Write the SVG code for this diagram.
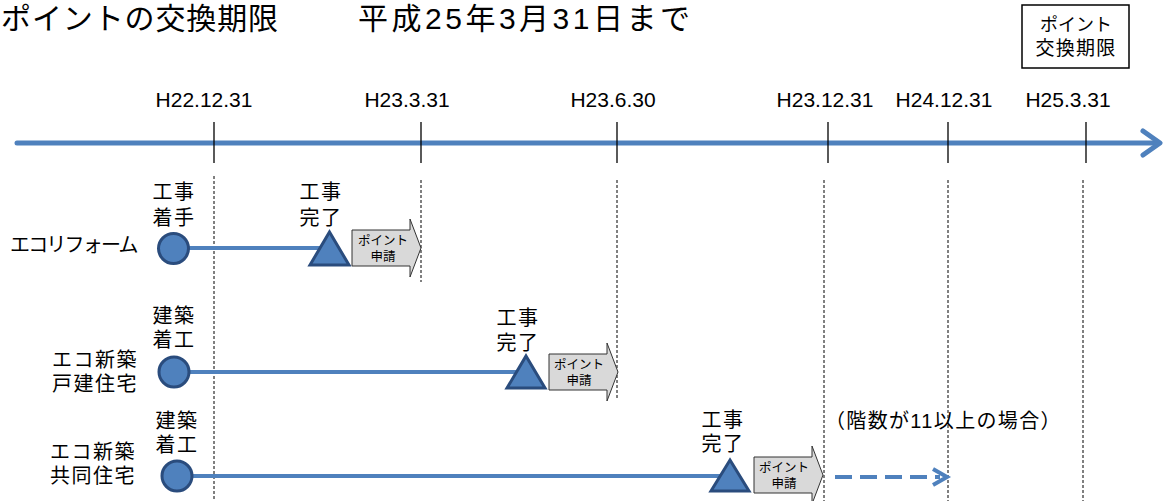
<svg xmlns="http://www.w3.org/2000/svg" width="1163" height="501" viewBox="0 0 1163 501">
<style>
text { font-family: "Liberation Sans","Noto Sans CJK JP",sans-serif; fill:#000; }
.title { font-size:30px; }
.date { font-size:21px; text-anchor:middle; }
.lbl { font-size:20px; letter-spacing:1.5px; }
.mid { text-anchor:middle; }
.small { font-size:12.5px; text-anchor:middle; }
.tick { stroke:#000; stroke-width:1.3; }
.guide { stroke:#000; stroke-width:1; stroke-dasharray:3 2; fill:none; }
.axis { stroke:#4F81BD; stroke-width:5; fill:none; stroke-linecap:round; stroke-linejoin:round; }
.bar { stroke:#4F81BD; stroke-width:4; }
.start { fill:#4F81BD; stroke:#2A4C7D; stroke-width:3; }
.end { fill:#4F81BD; stroke:#2A4C7D; stroke-width:3; stroke-linejoin:miter; }
.apply { fill:#D9D9D9; stroke:#333; stroke-width:1; }
.future { stroke:#4F81BD; stroke-width:4; fill:none; }
</style>

<g id="title">
  <text class="title" x="1" y="29" textLength="277" lengthAdjust="spacing">ポイントの交換期限</text>
  <text class="title" x="358" y="29" textLength="332" lengthAdjust="spacing">平成25年3月31日まで</text>
</g>

<g id="legend-box">
  <rect x="1022" y="5" width="107" height="63" fill="none" stroke="#000" stroke-width="1.5"/>
  <text class="mid" x="1076" y="31" font-size="18">ポイント</text>
  <text class="mid" x="1076" y="55" font-size="19" letter-spacing="1.3">交換期限</text>
</g>

<g id="guides">
  <line class="guide" x1="214" y1="176" x2="214" y2="501"/>
  <line class="guide" x1="421" y1="180" x2="421" y2="282"/>
  <line class="guide" x1="617" y1="180" x2="617" y2="400"/>
  <line class="guide" x1="824" y1="180" x2="824" y2="501"/>
  <line class="guide" x1="948" y1="180" x2="948" y2="501"/>
  <line class="guide" x1="1083" y1="180" x2="1083" y2="501"/>
</g>

<g id="timeline">
  <line class="axis" x1="17" y1="143" x2="1158" y2="143"/>
  <polyline class="axis" points="1143,131 1160,143 1143,155"/>
  <line class="tick" x1="214" y1="122" x2="214" y2="163"/>
  <line class="tick" x1="421" y1="122" x2="421" y2="163"/>
  <line class="tick" x1="617" y1="122" x2="617" y2="163"/>
  <line class="tick" x1="828" y1="122" x2="828" y2="163"/>
  <line class="tick" x1="948" y1="122" x2="948" y2="163"/>
  <line class="tick" x1="1086" y1="122" x2="1086" y2="163"/>
  <text class="date" x="204" y="107">H22.12.31</text>
  <text class="date" x="407" y="107">H23.3.31</text>
  <text class="date" x="613" y="107">H23.6.30</text>
  <text class="date" x="825" y="107">H23.12.31</text>
  <text class="date" x="944" y="107">H24.12.31</text>
  <text class="date" x="1068" y="107">H25.3.31</text>
</g>

<g id="connectors">
  <line class="bar" x1="188" y1="248" x2="322" y2="248"/>
  <line class="bar" x1="189" y1="372" x2="520" y2="372"/>
  <line class="bar" x1="192" y1="476" x2="724" y2="476"/>
  <line class="future" x1="835" y1="477" x2="940" y2="477" stroke-dasharray="17 8"/>
  <polyline class="future" points="933,469 947,477 933,485"/>
</g>

<g id="row-reform">
  <text class="lbl" x="10" y="252" textLength="130" lengthAdjust="spacing">エコリフォーム</text>
</g>
<g id="reform-start">
  <circle class="start" cx="173.5" cy="248.5" r="15"/>
  <text class="lbl mid" x="174" y="199">工事</text>
  <text class="lbl mid" x="174" y="225">着手</text>
</g>
<g id="reform-end">
  <path class="end" d="M329.5,232 L349,265 L310,265 Z"/>
  <text class="lbl mid" x="321" y="199">工事</text>
  <text class="lbl mid" x="321" y="225">完了</text>
</g>
<g id="reform-apply">
  <path class="apply" d="M352,230 H410 V219 L421,248 L410,277 V266 H352 Z"/>
  <text class="small" x="383" y="245">ポイント</text>
  <text class="small" x="383" y="261">申請</text>
</g>

<g id="row-house">
  <text class="lbl" x="52" y="367">エコ新築</text>
  <text class="lbl" x="52" y="391">戸建住宅</text>
</g>
<g id="house-start">
  <circle class="start" cx="174" cy="372" r="15"/>
  <text class="lbl mid" x="174" y="323">建築</text>
  <text class="lbl mid" x="174" y="347">着工</text>
</g>
<g id="house-end">
  <path class="end" d="M526,356 L545,388 L507,388 Z"/>
  <text class="lbl mid" x="518" y="325">工事</text>
  <text class="lbl mid" x="518" y="350">完了</text>
</g>
<g id="house-apply">
  <path class="apply" d="M549,354 H607 V343 L618,372 L607,401 V390 H549 Z"/>
  <text class="small" x="579" y="369">ポイント</text>
  <text class="small" x="579" y="385">申請</text>
</g>

<g id="row-apartment">
  <text class="lbl" x="50" y="459">エコ新築</text>
  <text class="lbl" x="50" y="483">共同住宅</text>
</g>
<g id="apartment-start">
  <circle class="start" cx="177" cy="476" r="15"/>
  <text class="lbl mid" x="177" y="428">建築</text>
  <text class="lbl mid" x="177" y="452">着工</text>
</g>
<g id="apartment-end">
  <path class="end" d="M730,460 L749,491 L711,491 Z"/>
  <text class="lbl mid" x="723" y="427">工事</text>
  <text class="lbl mid" x="723" y="451">完了</text>
</g>
<g id="apartment-apply">
  <path class="apply" d="M754,457 H812 V446 L823,475 L812,504 V493 H754 Z"/>
  <text class="small" x="784" y="472">ポイント</text>
  <text class="small" x="784" y="488">申請</text>
</g>
<g id="note">
  <text class="lbl" x="825" y="428" textLength="237" lengthAdjust="spacing">（階数が11以上の場合）</text>
</g>
</svg>
